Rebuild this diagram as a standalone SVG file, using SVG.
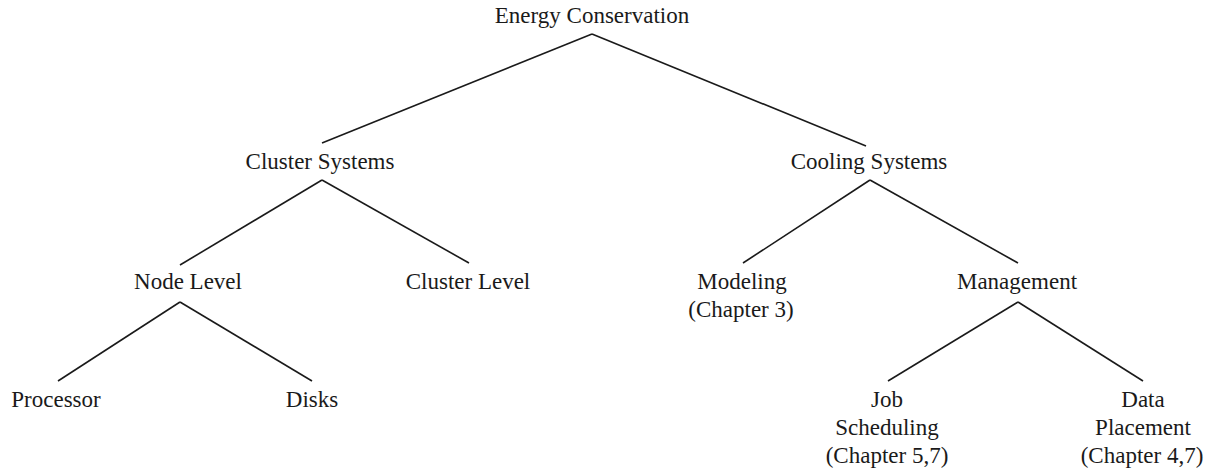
<svg xmlns="http://www.w3.org/2000/svg" width="1216" height="472" viewBox="0 0 1216 472">
<style>
text{font-family:"Liberation Serif","Times New Roman",serif;font-size:23px;fill:#1a1a1a;text-anchor:middle}
.c line{stroke:#1a1a1a;stroke-width:1.6;fill:none}
</style>
<rect width="1216" height="472" fill="#fff"/>
<g class="c" id="connectors">
<line x1="592" y1="34" x2="322" y2="143"/>
<line x1="592" y1="34" x2="866" y2="146"/>
<line x1="322" y1="180" x2="180" y2="265"/>
<line x1="322" y1="180" x2="469" y2="263"/>
<line x1="870" y1="180" x2="743" y2="263"/>
<line x1="870" y1="180" x2="1018" y2="263"/>
<line x1="180" y1="302" x2="58" y2="381"/>
<line x1="180" y1="302" x2="312" y2="381"/>
<line x1="1018" y1="302" x2="888" y2="381"/>
<line x1="1018" y1="302" x2="1143" y2="381"/>
</g>
<g id="n-energy"><text x="592" y="23">Energy Conservation</text></g>
<g id="n-cluster-systems"><text x="320" y="169">Cluster Systems</text></g>
<g id="n-cooling-systems"><text x="869" y="169">Cooling Systems</text></g>
<g id="n-node-level"><text x="188" y="289">Node Level</text></g>
<g id="n-cluster-level"><text x="468" y="289">Cluster Level</text></g>
<g id="n-modeling"><text x="742" y="289">Modeling</text><text x="741" y="317">(Chapter 3)</text></g>
<g id="n-management"><text x="1017" y="289">Management</text></g>
<g id="n-processor"><text x="56" y="407">Processor</text></g>
<g id="n-disks"><text x="312" y="407">Disks</text></g>
<g id="n-job"><text x="887" y="407">Job</text><text x="887" y="435">Scheduling</text><text x="887" y="463">(Chapter 5,7)</text></g>
<g id="n-data"><text x="1143" y="407">Data</text><text x="1143" y="435">Placement</text><text x="1142" y="463">(Chapter 4,7)</text></g>
</svg>
